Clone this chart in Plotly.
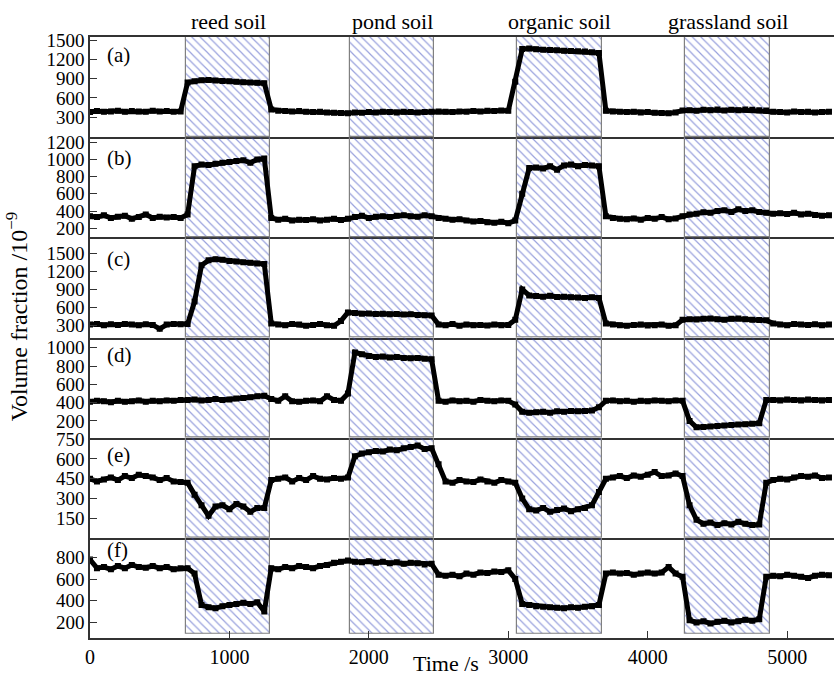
import plotly.graph_objects as go
from plotly.subplots import make_subplots

# ---------------- data ----------------
time_s = list(range(0, 5301, 50))

panel_a = [380, 395, 385, 390, 400, 385, 395, 390, 385, 400, 390, 395, 385, 390,
           840,
           860, 875, 880, 870, 865, 860, 850, 845, 840, 835, 830,
           420,
           400, 395, 390, 395, 385, 380, 385, 375, 370, 365,
           360, 375, 370, 380, 375, 385, 380, 375, 385, 380, 375, 380, 385,
           390, 385, 380, 390, 385, 395, 390, 400, 395, 405, 400,
           850,
           1360, 1370, 1355, 1350, 1345, 1340, 1335, 1330, 1325, 1320, 1310,
           1300, 400,
           390, 385, 380, 385, 375, 380, 370, 365, 360, 375,
           405, 410, 400, 415, 410, 420, 405, 415, 410, 420, 415, 410, 405,
           385, 380, 375, 390, 380, 385, 375, 380, 385]

panel_b = [340, 330, 350, 320, 335, 345, 310, 330, 360, 320, 335, 325, 330, 320,
           360, 920,
           940, 935, 950, 960, 970, 980, 990, 960, 1000, 1010,
           320,
           300, 310, 290, 300, 295, 305, 290, 300, 310, 295,
           310, 330, 345, 320, 335, 340, 330, 345, 350, 340, 335, 350, 340,
           320, 310, 300, 305, 290, 280, 285, 270, 265, 275, 260,
           290, 600, 900,
           905, 895, 920, 880, 930, 940, 920, 935, 930,
           920, 340,
           320, 310, 305, 315, 300, 320, 310, 330, 305, 315,
           340, 360, 370, 385, 380, 400, 410, 390, 420, 400, 410, 390, 380,
           370, 375, 365, 380, 360, 370, 355, 345, 350]

panel_c = [320, 330, 310, 325, 315, 330, 320, 310, 325, 315, 250, 320, 330, 325,
           330, 700, 1300,
           1380, 1400, 1390, 1370, 1360, 1350, 1340, 1330, 1320,
           340,
           320, 310, 330, 320, 300, 315, 330, 310, 300,
           380, 520,
           510, 500, 505, 495, 500, 490, 495, 485, 490, 480, 475,
           470, 320,
           310, 330, 300, 320, 310, 315, 305, 320, 310, 315,
           400, 900, 800,
           790, 780, 795, 775, 780, 770, 765, 760, 770,
           760, 340,
           320, 310, 300, 315, 320, 305, 310, 320, 300, 310,
           400, 410, 405, 415, 420, 410, 400, 415, 420, 410, 400, 395, 390,
           340, 320, 310, 330, 320, 315, 325, 310, 320]

panel_d = [410, 420, 415, 405, 420, 410, 415, 425, 410, 420, 415, 425, 420, 430,
           430, 435, 425, 430, 440, 430, 435, 445, 450, 460, 470, 475,
           440, 420, 470, 415, 410, 420, 425, 415, 470, 430, 420,
           500, 950,
           930, 910, 900, 905, 895, 900, 890, 885, 890, 880, 875,
           420,
           410, 425, 415, 420, 410, 430, 420, 415, 425, 420,
           380, 300,
           290, 295, 300, 290, 305, 300, 310, 305, 310, 315,
           350, 420,
           425, 415, 420, 410, 420, 415, 425, 420, 415, 425,
           420, 200, 130,
           135, 140, 145, 150, 155, 160, 165, 170, 175,
           430,
           430, 425, 435, 430, 425, 435, 430, 425, 430]

panel_e = [450, 430, 445, 460, 440, 470, 455, 480, 470, 460, 440, 455, 430, 425,
           420, 330, 250,
           170,
           240, 250, 220, 260, 240, 200, 230,
           230, 440,
           450, 460, 430, 455, 440, 470, 450, 445, 455, 450,
           460, 620,
           640, 650, 660, 655, 670, 665, 680, 690, 700, 675, 680,
           560, 430,
           420, 440, 430, 425, 445, 430, 420, 440, 430,
           420, 300, 220,
           210, 230, 200, 215, 225, 205, 220, 230, 250,
           350, 450,
           460, 470, 455, 475, 465, 480, 500, 470, 475, 490,
           470, 250, 140,
           110, 120, 100, 115, 105, 125, 110, 100, 105,
           420,
           440, 450, 445, 460, 470, 465, 475, 455, 460]

panel_f = [780, 700, 710, 690, 720, 700, 730, 710, 705, 720, 700, 710, 690, 700,
           700, 650, 360,
           340, 330, 350, 360, 370, 380, 370, 385,
           300, 700,
           690, 710, 700, 720, 710, 700, 720, 730, 750, 760,
           770, 760, 755, 765, 750, 760, 745, 755, 740, 750, 745, 735, 740,
           640, 630,
           640, 625, 650, 640, 660, 655, 670, 665, 680,
           600, 370,
           360, 350, 345, 340, 335, 330, 340, 335, 345, 350,
           360, 650,
           660, 650, 655, 640, 650, 660, 650, 660, 710, 650,
           620, 220,
           200, 210, 190, 205, 215, 200, 210, 225, 215, 230,
           620,
           630, 625, 640, 630, 620, 610, 630, 640, 635]

series = [panel_a, panel_b, panel_c, panel_d, panel_e, panel_f]
panel_labels = ["(a)", "(b)", "(c)", "(d)", "(e)", "(f)"]
y_ranges = [[-10, 1547], [95, 1258], [107, 1760], [17, 1113], [4, 760], [56, 980]]
y_ticks = [[300, 600, 900, 1200, 1500],
           [200, 400, 600, 800, 1000, 1200],
           [300, 600, 900, 1200, 1500],
           [200, 400, 600, 800, 1000],
           [150, 300, 450, 600, 750],
           [200, 400, 600, 800]]
band_names = ["reed soil", "pond soil", "organic soil", "grassland soil"]
band_start = [690, 1865, 3065, 4270]
band_end = [1293, 2470, 3675, 4875]
bottom_band_base = 93
x_range = [0, 5336]
x_ticks = [0, 1000, 2000, 3000, 4000, 5000]

for s in series:
    assert len(s) == len(time_s), len(s)

FONT = "Liberation Serif, Times New Roman, DejaVu Serif, serif"
AX_COLOR = "#333333"

fig = make_subplots(rows=6, cols=1, shared_xaxes=True, vertical_spacing=0)

centers = [(a + b) / 2 for a, b in zip(band_start, band_end)]
widths = [b - a for a, b in zip(band_start, band_end)]

for k in range(6):
    lo, hi = y_ranges[k]
    base = bottom_band_base if k == 5 else lo
    fig.add_trace(go.Bar(
        x=centers, y=[hi - base] * 4, base=[base] * 4, width=widths,
        marker=dict(color="rgba(255,255,255,0)",
                    line=dict(color="#808080", width=1.2),
                    pattern=dict(shape="\\", fgcolor="#3344bb",
                                 bgcolor="rgba(255,255,255,0)",
                                 size=6, solidity=0.2)),
        hoverinfo="skip", showlegend=False), row=k + 1, col=1)
    fig.add_trace(go.Scatter(
        x=time_s, y=series[k], mode="lines+markers",
        line=dict(color="black", width=5),
        marker=dict(symbol="square", size=6, color="black"),
        showlegend=False), row=k + 1, col=1)

    fig.update_yaxes(range=[lo, hi], tickvals=y_ticks[k], ticks="inside",
                     ticklen=7, tickcolor=AX_COLOR, showline=True,
                     linecolor=AX_COLOR, linewidth=1.5, mirror=False,
                     showgrid=False, zeroline=False,
                     tickfont=dict(family=FONT, size=19, color="black"),
                     row=k + 1, col=1)
    fig.update_xaxes(range=x_range, showline=True, linecolor=AX_COLOR,
                     linewidth=1.5, mirror=(k == 0), showgrid=False,
                     zeroline=False, row=k + 1, col=1,
                     ticks="inside" if k == 5 else "",
                     showticklabels=(k == 5), tickvals=x_ticks,
                     ticklen=7, tickcolor=AX_COLOR,
                     tickfont=dict(family=FONT, size=20, color="black"))

label_y = [0.82, 0.79, 0.78, 0.83, 0.83, 0.88]
annotations = []
for k in range(6):
    xa = "x domain" if k == 0 else f"x{k+1} domain"
    ya = "y domain" if k == 0 else f"y{k+1} domain"
    annotations.append(dict(text=panel_labels[k], xref=xa, yref=ya,
                            x=0.02, y=label_y[k], xanchor="left",
                            yanchor="middle", showarrow=False,
                            font=dict(family=FONT, size=21, color="black")))
for name, c in zip(band_names, centers):
    annotations.append(dict(text=name, xref="x", yref="paper", x=c, y=1.026,
                            xanchor="center", yanchor="middle",
                            showarrow=False,
                            font=dict(family=FONT, size=22, color="black")))
annotations.append(dict(text="Time /s", xref="x", yref="paper", x=2550,
                        y=-0.042, xanchor="center", yanchor="middle",
                        showarrow=False,
                        font=dict(family=FONT, size=22, color="black")))
annotations.append(dict(text="Volume fraction /10<sup>−9</sup>", xref="paper",
                        yref="paper", x=-0.097, y=0.535, xanchor="center",
                        yanchor="middle", textangle=-90, showarrow=False,
                        font=dict(family=FONT, size=24, color="black")))

fig.update_layout(width=834, height=682,
                  margin=dict(l=90, r=0, t=37, b=44),
                  plot_bgcolor="white", paper_bgcolor="white",
                  barmode="overlay", bargap=0,
                  annotations=annotations,
                  font=dict(family=FONT, size=20, color="black"))

fig.write_html("out.html")
